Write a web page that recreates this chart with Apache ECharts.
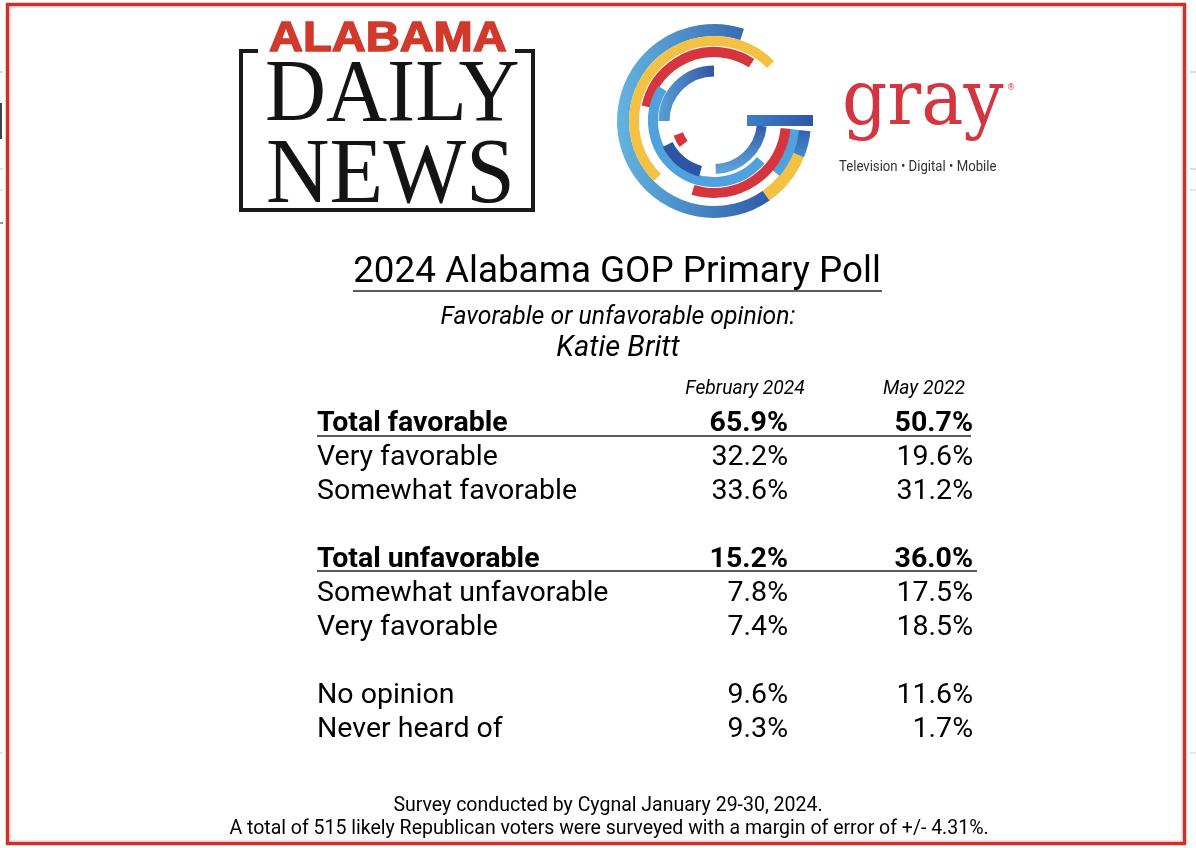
<!DOCTYPE html>
<html><head><meta charset="utf-8">
<script src="https://cdn.jsdelivr.net/npm/echarts@6/dist/echarts.min.js"></script>
<style>html,body{margin:0;padding:0;background:#fff}#c{width:1196px;height:848px}</style>
</head><body><div id="c"></div>
<script>
// ---- data ----
const rowLabels = ['Total favorable', 'Very favorable', 'Somewhat favorable', '',
  'Total unfavorable', 'Somewhat unfavorable', 'Very favorable', '',
  'No opinion', 'Never heard of'];
const feb2024 = [65.9, 32.2, 33.6, null, 15.2, 7.8, 7.4, null, 9.6, 9.3];
const may2022 = [50.7, 19.6, 31.2, null, 36.0, 17.5, 18.5, null, 11.6, 1.7];
const columnHeaders = ['February 2024', 'May 2022'];
const titleText = '2024 Alabama GOP Primary Poll';
const subtitleText = 'Favorable or unfavorable opinion:';
const subjectText = 'Katie Britt';
const footnotes = ['Survey conducted by Cygnal January 29-30, 2024.',
  'A total of 515 likely Republican voters were surveyed with a margin of error of +/- 4.31%.'];

// ---- styles ----
const FONT = 'Roboto';
const INK = '#000';
const ROWFS = 28.5;
const isTotal = l => l.indexOf('Total') === 0;
const rowIdx = rowLabels.map((_, i) => String(i));
const d = a => a * Math.PI / 180;

const rowLabelStyle = l => ({ fontWeight: isTotal(l) ? 'bold' : 'normal', color: INK, opacity: 1 });
const labelData = [];
rowLabels.forEach((l, i) => { if (l) labelData.push({ value: [0, i], name: l, label: rowLabelStyle(l) }); });
const colData = arr => {
  const out = [];
  arr.forEach((v, i) => { if (v != null) out.push({ value: [0, i, v], label: rowLabelStyle(rowLabels[i]) }); });
  return out;
};

const gridBox = { top: 407, height: 340 };
const hiddenY = gi => ({ gridIndex: gi, type: 'category', data: rowIdx, inverse: true, show: false });
const headerX = (gi, name) => ({
  gridIndex: gi, type: 'category', data: [name], position: 'top',
  axisLine: { show: false }, axisTick: { show: false }, splitLine: { show: false },
  axisLabel: { margin: 8, fontFamily: FONT, fontStyle: 'italic', fontSize: 19.3, color: INK }
});
const valueLabel = off => ({
  show: true, position: 'left', distance: 0, offset: [off, 0],
  fontFamily: FONT, fontSize: ROWFS, color: INK,
  formatter: p => p.value[2].toFixed(1) + '%'
});
const textSeries = {
  type: 'scatter', symbolSize: 0, itemStyle: { color: '#000', opacity: 1 },
  emphasis: { disabled: true }, silent: true
};

const blue = (a, b) => ({ type: 'linear', x: 0, y: 0, x2: 1, y2: 0, colorStops: [{ offset: 0, color: a }, { offset: 1, color: b }] });
const blueV = (a, b) => ({ type: 'linear', x: 0, y: 0, x2: 0, y2: 1, colorStops: [{ offset: 0, color: a }, { offset: 1, color: b }] });
const CX = 714, CY = 121;
const arc = (r, w, a0, a1, color) => ({
  type: 'arc', silent: true,
  shape: { cx: CX, cy: CY, r: r, startAngle: d(a0), endAngle: d(a1), clockwise: true },
  style: { stroke: color, lineWidth: w, fill: null, lineCap: 'butt' }
});
const line = (x1, y1, x2, y2, w, c) => ({ type: 'line', silent: true, shape: { x1, y1, x2, y2 }, style: { stroke: c, lineWidth: w } });
const txt = (x, y, text, font, fill, align, extra) => Object.assign({
  type: 'text', silent: true, x: x, y: y,
  style: { text: text, font: font, fill: fill, textAlign: align || 'center', textVerticalAlign: 'middle' }
}, extra || {});

const YEL = '#f3c144', RED = '#d7353e', LB = '#4fa2dd';

const graphics = [
  // outer border
  { type: 'rect', silent: true, shape: { x: 7.5, y: 4.5, width: 1177, height: 839 }, style: { fill: null, stroke: '#cf3027', lineWidth: 3.5 } },
  { type: 'rect', silent: true, shape: { x: 10, y: 7, width: 1172, height: 834 }, style: { fill: null, stroke: '#f2c2bf', lineWidth: 1 } },
  // scan marks outside border
  { type: 'rect', silent: true, shape: { x: 0, y: 103, width: 2, height: 36 }, style: { fill: '#444' } },
  line(0, 72, 3, 72, 1, '#bbb'), line(0, 169, 3, 169, 1, '#bbb'), line(0, 190, 3, 190, 1, '#ccc'),
  line(0, 223, 3, 223, 1.5, '#777'), line(0, 753, 3, 753, 1, '#ccc'),
  line(1190, 72, 1196, 72, 1, '#bbb'), line(1190, 169, 1196, 169, 1, '#bbb'), line(1190, 190, 1196, 190, 1, '#ccc'), line(1190, 753, 1196, 753, 1, '#ccc'),

  // Alabama Daily News logo
  { type: 'polyline', silent: true, shape: { points: [[258, 51], [241, 51], [241, 210], [533, 210], [533, 51], [515, 51]] }, style: { stroke: '#1a1a1a', lineWidth: 4, fill: null } },
  txt(269, 39, 'ALABAMA', 'bold 42px "Liberation Sans"', '#d0392b', 'left', { scaleX: 1.12, style: { text: 'ALABAMA', font: 'bold 42px "Liberation Sans"', fill: '#d0392b', stroke: '#d0392b', lineWidth: 1.4, textAlign: 'left', textVerticalAlign: 'middle' } }),
  txt(265, 97, 'DAILY', '89px "Liberation Serif"', '#141414', 'left', { scaleX: 0.95 }),
  txt(266, 177, 'NEWS', '94px "Liberation Serif"', '#141414', 'left', { scaleX: 0.935 }),

  // gray "G" logo
  arc(91, 12, 55, 288, blue('#63b4e0', '#2e5aa8')),
  arc(91, 12, 22, 55, YEL),
  arc(91, 12, 6, 22, blueV('#2f5aa8', '#4a8fd0')),
  arc(80, 10, 135, 315, YEL),
  arc(81, 9, 6, 40, LB),
  arc(69, 10, 192, 303, RED),
  arc(72, 10, 6, 107, RED),
  arc(61, 10, 40, 212, LB),
  arc(50, 11, 180, 270, blue('#5a9fd8', '#2e4f9c')),
  arc(52, 11, 105, 153, '#2d55a6'),
  arc(48, 10, 6, 88, blueV('#2e55a4', '#5fa8dc')),
  arc(38, 10, 143, 160, RED),
  { type: 'rect', silent: true, shape: { x: 747, y: 115, width: 66, height: 11 }, style: { fill: blue('#3f7fc8', '#2d57a6') } },
  txt(842, 104, 'gray', '77px "DejaVu Serif"', '#d33640', 'left', { scaleX: 0.92 }),
  txt(1007, 88, '®', '8px "DejaVu Sans"', '#d33640', 'left'),
  txt(839, 167, 'Television • Digital • Mobile', '14px Roboto', '#333', 'left', { scaleX: 0.94 }),

  // titles
  txt(617, 273, titleText, '36.8px ' + FONT, INK),
  line(353, 291, 882, 291, 1.6, '#222'),
  txt(618, 318, subtitleText, 'italic 24.8px ' + FONT, INK),
  txt(618, 349, subjectText, 'italic 29px ' + FONT, INK),

  // total rows underlines
  line(317, 436, 971, 436, 1.5, '#222'),
  line(317, 571, 977, 571, 1.5, '#222'),

  // footnotes
  txt(608, 806, footnotes[0], '19.5px ' + FONT, INK),
  txt(609, 829, footnotes[1], '19.5px ' + FONT, INK)
];

const chart = echarts.init(document.getElementById('c'), null, { renderer: 'canvas' });
chart.setOption({
  animation: false,
  backgroundColor: '#fff',
  grid: [
    Object.assign({ left: 315, width: 4 }, gridBox),
    Object.assign({ left: 685, width: 120 }, gridBox),
    Object.assign({ left: 864, width: 120 }, gridBox)
  ],
  xAxis: [
    { gridIndex: 0, type: 'category', data: [''], show: false },
    headerX(1, columnHeaders[0]),
    headerX(2, columnHeaders[1])
  ],
  yAxis: [hiddenY(0), hiddenY(1), hiddenY(2)],
  series: [
    Object.assign({}, textSeries, {
      xAxisIndex: 0, yAxisIndex: 0, data: labelData,
      label: { show: true, position: 'right', distance: 0, formatter: '{b}', fontFamily: FONT, fontSize: ROWFS, color: INK }
    }),
    Object.assign({}, textSeries, {
      name: columnHeaders[0], xAxisIndex: 1, yAxisIndex: 1, data: colData(feb2024), label: valueLabel(43)
    }),
    Object.assign({}, textSeries, {
      name: columnHeaders[1], xAxisIndex: 2, yAxisIndex: 2, data: colData(may2022), label: valueLabel(49)
    })
  ],
  graphic: { elements: graphics }
});
</script>
</body></html>
